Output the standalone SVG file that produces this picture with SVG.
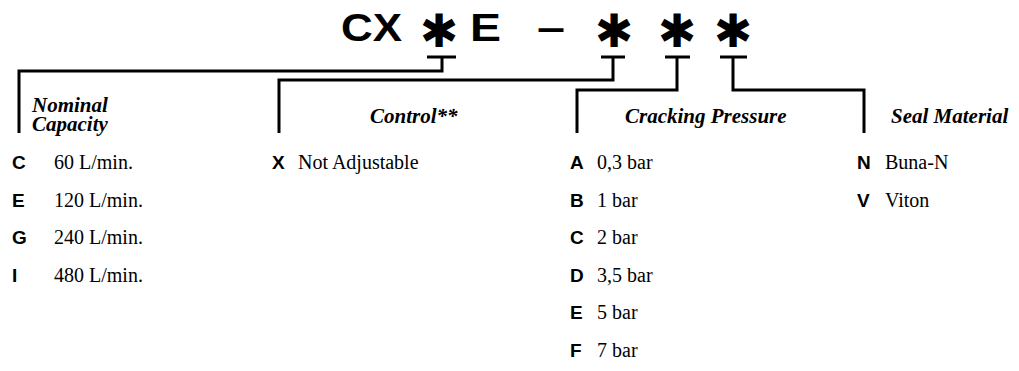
<svg xmlns="http://www.w3.org/2000/svg" width="1019" height="371" viewBox="0 0 1019 371">
<style>
.title{font-family:"Liberation Sans",Arial,sans-serif;font-weight:bold;font-size:38px;fill:#000}
.ast{font-family:"DejaVu Sans",sans-serif;font-weight:bold;font-size:46px;fill:#000;text-anchor:middle}
.hdr{font-family:"Liberation Serif","Times New Roman",serif;font-weight:bold;font-style:italic;font-size:21px;fill:#000}
.key{font-family:"Liberation Sans",Arial,sans-serif;font-weight:bold;font-size:19px;fill:#000}
.val{font-family:"Liberation Serif","Times New Roman",serif;font-size:20px;fill:#000}
.ln{fill:none;stroke:#000;stroke-width:3}
</style>
<rect width="1019" height="371" fill="#fff"/>
<g id="title">
<text class="title" x="341" y="41" textLength="61" lengthAdjust="spacingAndGlyphs">CX</text>
<text class="ast" x="439" y="47">✱</text>
<text class="title" x="470" y="41" textLength="31" lengthAdjust="spacingAndGlyphs">E</text>
<text class="title" x="537" y="41" textLength="28" lengthAdjust="spacingAndGlyphs">–</text>
<text class="ast" x="614" y="47">✱</text>
<text class="ast" x="677" y="47">✱</text>
<text class="ast" x="733" y="47">✱</text>
</g>
<g id="connectors">
<path class="ln" d="M427,57 H456 M442,57 V71 H19 V133"/>
<path class="ln" d="M601,57 H625 M613,57 V80 H279 V133"/>
<path class="ln" d="M665,57 H690 M677,57 V90 H577 V133"/>
<path class="ln" d="M720,57 H747 M733,57 V90 H864 V133"/>
</g>
<g id="nominal-capacity">
<text class="hdr" x="32" y="112">Nominal<tspan x="32" y="131">Capacity</tspan></text>
<text class="key" x="12" y="169">C</text><text class="val" x="54" y="169">60 L/min.</text>
<text class="key" x="12" y="206.6">E</text><text class="val" x="54" y="206.6">120 L/min.</text>
<text class="key" x="12" y="244.2">G</text><text class="val" x="54" y="244.2">240 L/min.</text>
<text class="key" x="12" y="281.8">I</text><text class="val" x="54" y="281.8">480 L/min.</text>
</g>
<g id="control">
<text class="hdr" x="370" y="123">Control**</text>
<text class="key" x="272" y="169">X</text><text class="val" x="298" y="169">Not Adjustable</text>
</g>
<g id="cracking-pressure">
<text class="hdr" x="625" y="123">Cracking Pressure</text>
<text class="key" x="570" y="169">A</text><text class="val" x="597" y="169">0,3 bar</text>
<text class="key" x="570" y="206.6">B</text><text class="val" x="597" y="206.6">1 bar</text>
<text class="key" x="570" y="244.2">C</text><text class="val" x="597" y="244.2">2 bar</text>
<text class="key" x="570" y="281.8">D</text><text class="val" x="597" y="281.8">3,5 bar</text>
<text class="key" x="570" y="319.4">E</text><text class="val" x="597" y="319.4">5 bar</text>
<text class="key" x="570" y="357">F</text><text class="val" x="597" y="357">7 bar</text>
</g>
<g id="seal-material">
<text class="hdr" x="891" y="123">Seal Material</text>
<text class="key" x="857" y="169">N</text><text class="val" x="885" y="169">Buna-N</text>
<text class="key" x="857" y="206.6">V</text><text class="val" x="885" y="206.6">Viton</text>
</g>
</svg>
